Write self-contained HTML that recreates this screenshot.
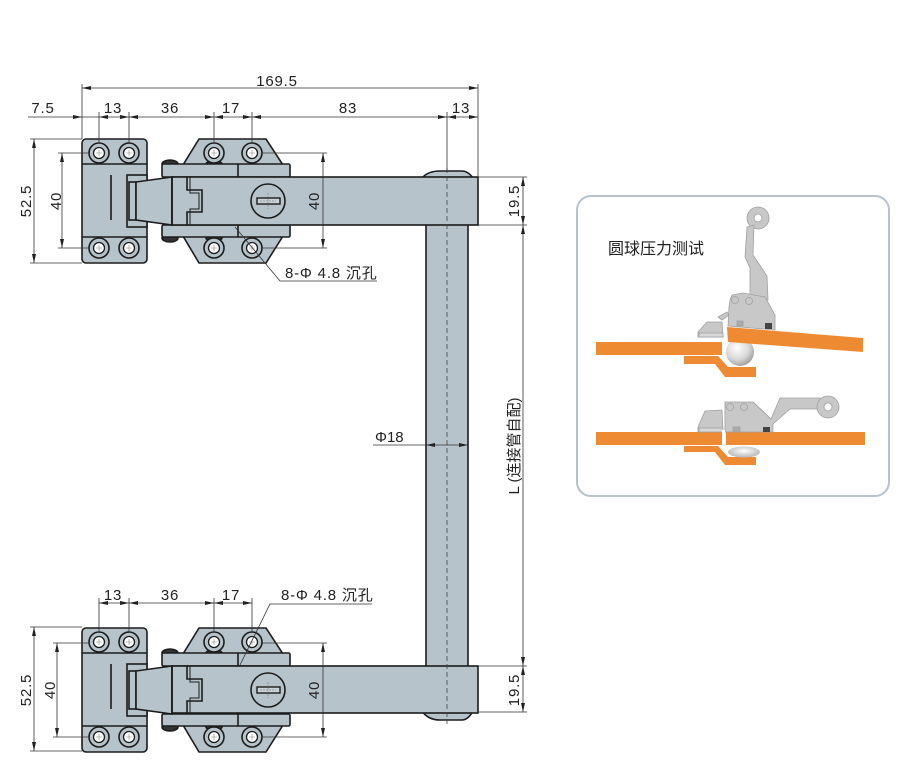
<!DOCTYPE html>
<html><head><meta charset="utf-8"><style>
html,body{margin:0;padding:0;background:#fff;}
svg{display:block;}
text{font-family:"Liberation Sans","Noto Sans CJK SC",sans-serif;fill:#222;}
</style></head><body>
<svg width="914" height="774" viewBox="0 0 914 774" xmlns="http://www.w3.org/2000/svg">
<defs>
<radialGradient id="ball" cx="0.4" cy="0.35" r="0.7">
<stop offset="0" stop-color="#ffffff"/><stop offset="0.6" stop-color="#d8d8d8"/><stop offset="1" stop-color="#9a9a9a"/>
</radialGradient>
<radialGradient id="ell" cx="0.5" cy="0.4" r="0.6">
<stop offset="0" stop-color="#ffffff"/><stop offset="1" stop-color="#b5b5b5"/>
</radialGradient>
<g id="hole">
<circle r="10" fill="#b6c3cb" stroke="#1c1c1c" stroke-width="1.6"/>
<circle r="5.5" fill="#fff" stroke="#1c1c1c" stroke-width="1.3"/>
<path d="M-3,0H3M0,-3V3" stroke="#888" stroke-width="0.6"/>
</g>
<g id="hingeA" stroke="#1c1c1c" stroke-width="1.6" fill="#b6c3cb">
<polygon points="199,139 266,139 283,165 183,165"/>
<polygon points="183,236 283,236 266,263 199,263"/>
<ellipse cx="170" cy="164" rx="8" ry="4" fill="#333"/>
<ellipse cx="170" cy="238" rx="8" ry="4" fill="#333"/>
<ellipse cx="214" cy="164" rx="8" ry="3" fill="#333"/>
<ellipse cx="214" cy="238" rx="8" ry="3" fill="#333"/>
<use href="#hole" x="214" y="153"/>
<use href="#hole" x="252" y="153"/>
<use href="#hole" x="214" y="248"/>
<use href="#hole" x="252" y="248"/>
<rect x="162" y="164" width="128" height="13" rx="1.5"/>
<line x1="238" y1="164" x2="238" y2="177"/>
<rect x="162" y="225" width="128" height="12" rx="1.5"/>
<line x1="238" y1="225" x2="238" y2="237"/>
<rect x="82" y="139" width="65" height="124" rx="4"/>
<line x1="82" y1="164" x2="147" y2="164"/>
<line x1="82" y1="237" x2="147" y2="237"/>
<line x1="111" y1="175" x2="111" y2="220"/>
<use href="#hole" x="99" y="153"/>
<use href="#hole" x="129" y="153"/>
<use href="#hole" x="99" y="248"/>
<use href="#hole" x="129" y="248"/>
<rect x="127" y="175" width="20" height="52"/>
<rect x="129" y="182" width="7" height="38"/>
<polygon points="136,182 172,177 172,225 136,220"/>
</g>
<g id="hingeB" stroke="#1c1c1c" fill="none">
<line x1="172" y1="177" x2="172" y2="225" stroke-width="1.6"/>
<polyline points="187,177 187,190 202,190 202,212 187,212 187,225" stroke-width="1.6"/>
<polyline points="190,177 190,193 199,193 199,209 190,209 190,225" stroke-width="1"/>
<circle cx="268" cy="201" r="17" stroke-width="1.6" fill="#b6c3cb"/>
<rect x="257" y="198" width="23" height="6" stroke-width="1.4" fill="#c9d3d9"/>
<path d="M268,193V209M260,201H276" stroke="#666" stroke-width="0.5" stroke-dasharray="2,1"/>
</g>
</defs>

<!-- vertical tube and bars -->
<g stroke="#1c1c1c" stroke-width="1.6" fill="#b6c3cb">
<path d="M422,178 Q428,171 440,171 L462,171 Q468,171 473,178 Z"/>
<path d="M422,711 Q428,720 440,720 L462,720 Q468,720 473,711 Z"/>
<rect x="426" y="224" width="42" height="443"/>
</g>

<use href="#hingeA"/>
<rect x="172" y="177" width="306" height="48" fill="#b6c3cb" stroke="#1c1c1c" stroke-width="1.6"/>
<use href="#hingeB"/>

<g transform="translate(0,489)">
<use href="#hingeA"/>
</g>
<rect x="172" y="666" width="306" height="47" fill="#b6c3cb" stroke="#1c1c1c" stroke-width="1.6"/>
<g transform="translate(0,489)"><use href="#hingeB"/></g>

<!-- centerline -->
<line x1="447" y1="168" x2="447" y2="724" stroke="#444" stroke-width="0.8" stroke-dasharray="5,3"/>

<!-- dimension lines -->
<g stroke="#333" stroke-width="0.8" fill="none">
<!-- top -->
<line x1="82" y1="88" x2="478" y2="88"/>
<line x1="82" y1="84" x2="82" y2="139"/>
<line x1="478" y1="84" x2="478" y2="177"/>
<line x1="28" y1="117" x2="478" y2="117"/>
<line x1="99" y1="112" x2="99" y2="143"/>
<line x1="129" y1="112" x2="129" y2="143"/>
<line x1="214" y1="112" x2="214" y2="143"/>
<line x1="252" y1="112" x2="252" y2="143"/>
<line x1="447" y1="112" x2="447" y2="171"/>
<!-- left 52.5 / 40 top -->
<line x1="34" y1="139" x2="34" y2="263"/>
<line x1="30" y1="139" x2="82" y2="139"/>
<line x1="30" y1="263" x2="82" y2="263"/>
<line x1="62" y1="153" x2="62" y2="248"/>
<line x1="58" y1="153" x2="89" y2="153"/>
<line x1="58" y1="248" x2="89" y2="248"/>
<!-- right 40 top -->
<line x1="323" y1="153" x2="323" y2="248"/>
<line x1="262" y1="153" x2="327" y2="153"/>
<line x1="262" y1="248" x2="327" y2="248"/>
<!-- 19.5 / L -->
<line x1="478" y1="177" x2="527" y2="177"/>
<line x1="478" y1="225" x2="527" y2="225"/>
<line x1="478" y1="666" x2="527" y2="666"/>
<line x1="478" y1="712" x2="527" y2="712"/>
<line x1="523" y1="177" x2="523" y2="712"/>
<!-- phi 18 -->
<line x1="373" y1="445" x2="468" y2="445"/>
<!-- labels -->
<polyline points="235,227 280,281 377,281"/>
<polyline points="240,665 270,604 372,604"/>
<!-- bottom row -->
<line x1="99" y1="603" x2="252" y2="603"/>
<line x1="99" y1="598" x2="99" y2="632"/>
<line x1="129" y1="598" x2="129" y2="632"/>
<line x1="214" y1="598" x2="214" y2="632"/>
<line x1="252" y1="598" x2="252" y2="632"/>
<!-- bottom left -->
<line x1="34" y1="627" x2="34" y2="751"/>
<line x1="30" y1="627" x2="82" y2="627"/>
<line x1="30" y1="751" x2="82" y2="751"/>
<line x1="57" y1="643" x2="57" y2="737"/>
<line x1="53" y1="643" x2="89" y2="643"/>
<line x1="53" y1="737" x2="89" y2="737"/>
<!-- bottom right 40 -->
<line x1="323" y1="643" x2="323" y2="737"/>
<line x1="262" y1="643" x2="327" y2="643"/>
<line x1="262" y1="737" x2="327" y2="737"/>
</g>

<!-- arrowheads -->
<g fill="#222">
<path d="M82,88l9,-2v4z M478,88l-9,-2v4z"/>
<path d="M82,117l-9,-2v4z M99,117l9,-2v4z M129,117l-9,-2v4z M129,117l9,-2v4z M214,117l-9,-2v4z M214,117l9,-2v4z M252,117l-9,-2v4z M252,117l9,-2v4z M447,117l-9,-2v4z M447,117l9,-2v4z M478,117l-9,-2v4z"/>
<path d="M99,603l9,-2v4z M129,603l-9,-2v4z M129,603l9,-2v4z M214,603l-9,-2v4z M214,603l9,-2v4z M252,603l-9,-2v4z"/>
<path d="M34,139l-2,9h4z M34,263l-2,-9h4z M62,153l-2,9h4z M62,248l-2,-9h4z M323,153l-2,9h4z M323,248l-2,-9h4z"/>
<path d="M34,627l-2,9h4z M34,751l-2,-9h4z M57,643l-2,9h4z M57,737l-2,-9h4z M323,643l-2,9h4z M323,737l-2,-9h4z"/>
<path d="M523,177l-2,9h4z M523,225l-2,-9h4z M523,225l-2,9h4z M523,666l-2,-9h4z M523,666l-2,9h4z M523,712l-2,-9h4z"/>
<path d="M426,445l9,-2v4z M468,445l-9,-2v4z"/>
</g>

<!-- texts -->
<g font-size="15" letter-spacing="0.8">
<text x="277" y="86" text-anchor="middle">169.5</text>
<text x="43" y="113" text-anchor="middle">7.5</text>
<text x="113" y="113" text-anchor="middle">13</text>
<text x="170" y="113" text-anchor="middle">36</text>
<text x="231" y="113" text-anchor="middle">17</text>
<text x="348" y="113" text-anchor="middle">83</text>
<text x="461" y="113" text-anchor="middle">13</text>
<text x="113" y="600" text-anchor="middle">13</text>
<text x="170" y="600" text-anchor="middle">36</text>
<text x="231" y="600" text-anchor="middle">17</text>
<text x="285" y="278">8-Φ 4.8 沉孔</text>
<text x="281" y="600">8-Φ 4.8 沉孔</text>
<text x="375" y="442" letter-spacing="0">Φ18</text>
<text transform="translate(31,201) rotate(-90)" text-anchor="middle">52.5</text>
<text transform="translate(61,201) rotate(-90)" text-anchor="middle">40</text>
<text transform="translate(319,201) rotate(-90)" text-anchor="middle">40</text>
<text transform="translate(519,201) rotate(-90)" text-anchor="middle">19.5</text>
<text transform="translate(519,446) rotate(-90)" text-anchor="middle" letter-spacing="0">L (连接管自配)</text>
<text transform="translate(31,690) rotate(-90)" text-anchor="middle">52.5</text>
<text transform="translate(55,690) rotate(-90)" text-anchor="middle">40</text>
<text transform="translate(319,690) rotate(-90)" text-anchor="middle">40</text>
<text transform="translate(519,690) rotate(-90)" text-anchor="middle">19.5</text>
</g>

<!-- inset box -->
<rect x="577" y="196" width="312" height="300" rx="14" fill="#fff" stroke="#b7c3cb" stroke-width="2"/>
<text x="608" y="254" font-size="16" style="font-family:'Noto Sans CJK SC',sans-serif">圆球压力测试</text>

<!-- upper scene -->
<g>
<polygon points="684,356 718,356 728,367 756,367 756,377 725,377 715,364 684,364" fill="#ee8a31"/>
<rect x="596" y="342" width="126" height="13" fill="#ee8a31"/>
<circle cx="740" cy="352" r="14" fill="url(#ball)"/>
<polygon points="727,327 863,338 863,352 728,342" fill="#ee8a31"/>
<g fill="#c8c8c8" stroke="#a0a0a0" stroke-width="0.8">
<polygon points="698,332 707,322 722,322 723,337 698,337"/>
<rect x="699" y="333" width="24" height="4" fill="#d8d8d8"/>
<polygon points="718,317 727,312 729,315 722,320"/>
<circle cx="758" cy="218" r="11"/>
<polygon points="747,227 754,225 753,255 767,276 768,300 750,298 750,268 745,257"/>
<polygon points="730,300 732,295 743,293 765,297 775,315 775,330 728,326 729,307"/>
<circle cx="758" cy="218" r="4" fill="#fff"/>
<circle cx="735" cy="300" r="3.5"/>
<circle cx="749" cy="301" r="3.5"/>
<rect x="737" y="321" width="6" height="5" fill="#aaa"/>
<rect x="765" y="323" width="7" height="6" fill="#444" stroke="none"/>
</g>
</g>

<!-- lower scene -->
<g>
<polygon points="684,446 718,446 728,457 756,457 756,465 725,465 715,452 684,452" fill="#ee8a31"/>
<ellipse cx="744" cy="452" rx="16" ry="5.5" fill="url(#ell)"/>
<rect x="596" y="432" width="126" height="13" fill="#ee8a31"/>
<rect x="726" y="432" width="139" height="13" fill="#ee8a31"/>
<g fill="#c8c8c8" stroke="#a0a0a0" stroke-width="0.8">
<polygon points="698,427 705,411 722,410 723,432 698,432"/>
<rect x="699" y="428" width="24" height="4" fill="#d8d8d8"/>
<polygon points="725,402 753,402 771,419 780,398 820,398 820,409 790,409 773,424 773,432 725,432"/>
<line x1="753" y1="402" x2="771" y2="419"/>
<circle cx="828" cy="407" r="11"/>
<circle cx="828" cy="407" r="4" fill="#fff"/>
<circle cx="730" cy="407" r="3.5"/>
<circle cx="744" cy="407" r="3.5"/>
<rect x="733" y="427" width="7" height="5" fill="#aaa"/>
<rect x="763" y="427" width="7" height="5" fill="#444" stroke="none"/>
</g>
<rect x="722" y="430" width="3" height="17" fill="#fff"/>
</g>
</svg>
</body></html>
